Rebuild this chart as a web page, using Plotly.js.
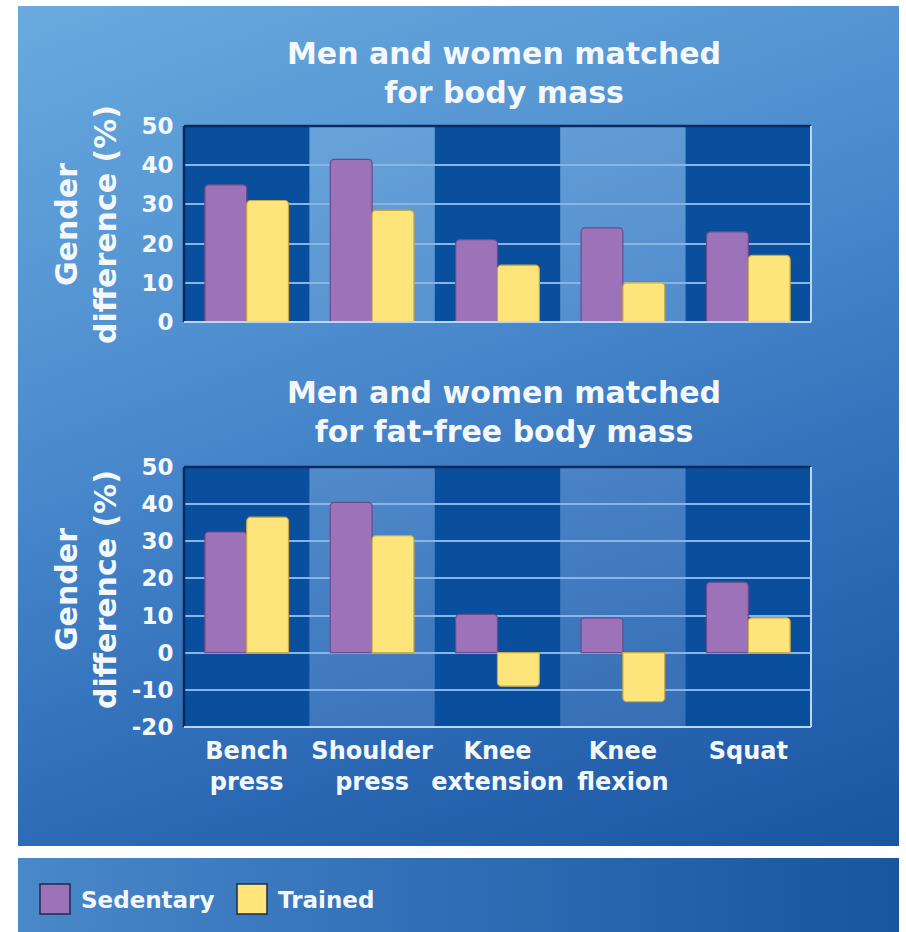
<!DOCTYPE html>
<html>
<head>
<meta charset="utf-8">
<script src="https://cdn.plot.ly/plotly-3.0.1.min.js"></script>
<style>
  html, body { margin:0; padding:0; background:#ffffff; }
  #wrap { position:relative; width:906px; height:932px; overflow:hidden; background:#ffffff; }
  #panel1 { position:absolute; left:18px; top:6px; width:881px; height:840px;
    background: linear-gradient(160deg, #6aaade 0%, #4f8fd0 35%, #2f6db8 70%, #1a55a0 100%); }
  #panel2 { position:absolute; left:18px; top:858px; width:881px; height:80px;
    background: linear-gradient(90deg, #4a88c9 0%, #3170b8 45%, #1a559f 100%); }
  #chart { position:absolute; left:0; top:0; width:906px; height:932px; }
</style>
</head>
<body>
<div id="wrap">
  <div id="panel1"></div>
  <div id="panel2"></div>
  <div id="chart"></div>
</div>
<script>
// ---- data ----
const categories = ['Bench press', 'Shoulder press', 'Knee extension', 'Knee flexion', 'Squat'];
const seriesNames = ['Sedentary', 'Trained'];
const bodyMassSedentary = [35, 41.5, 21, 24, 23];
const bodyMassTrained = [31, 28.5, 14.5, 10, 17];
const fatFreeSedentary = [32.5, 40.5, 10.3, 9.4, 19];
const fatFreeTrained = [36.5, 31.5, -9, -13.2, 9.4];
const topTicks = [0, 10, 20, 30, 40, 50];
const bottomTicks = [-20, -10, 0, 10, 20, 30, 40, 50];
const titleTop = 'Men and women matched<br>for body mass';
const titleBottom = 'Men and women matched<br>for fat-free body mass';
const yTitle = 'Gender<br>difference (%)';

// ---- style ----
const FONT = 'DejaVu Sans';
const WHITE = '#f4f8fd';
const PURPLE = '#9c73b8';
const YELLOW = '#fde57c';
const tickText = categories.map(c => c.replace(' ', '<br>'));

function barTrace(name, y, color, lineColor, xa, ya, showlegend) {
  return {
    type: 'bar', name: name, x: categories, y: y,
    xaxis: xa, yaxis: ya, showlegend: showlegend,
    marker: { color: color, cornerradius: 4, line: { color: lineColor, width: 1.2 } },
    hoverinfo: 'x+y+name'
  };
}

const data = [
  barTrace(seriesNames[0], bodyMassSedentary, PURPLE, '#6b4b8d', 'x', 'y', false),
  barTrace(seriesNames[1], bodyMassTrained, YELLOW, '#c9a945', 'x', 'y', false),
  barTrace(seriesNames[0], fatFreeSedentary, PURPLE, '#6b4b8d', 'x2', 'y2', false),
  barTrace(seriesNames[1], fatFreeTrained, YELLOW, '#c9a945', 'x2', 'y2', false)
];

const xDom = [184/906, 811/906];
const gridColor = '#86b6e6';

function yAxis(range, ticks, dom, anchor) {
  return {
    domain: dom, anchor: anchor, range: range, tickvals: ticks,
    ticktext: ticks.map(String),
    showgrid: true, gridcolor: gridColor, gridwidth: 2,
    zeroline: true, zerolinecolor: gridColor, zerolinewidth: 2,
    ticks: 'outside', ticklen: 5, tickcolor: 'rgba(0,0,0,0)',
    tickfont: { family: FONT, size: 23, color: WHITE, weight: 'bold' },
    showline: false, fixedrange: true
  };
}
function xAxis(dom, anchor, showLabels) {
  return {
    domain: dom, anchor: anchor, type: 'category', categoryarray: categories,
    tickvals: categories, ticktext: tickText, showticklabels: showLabels,
    tickangle: 0,
    showgrid: false, zeroline: false, showline: false,
    ticks: 'outside', ticklen: 2, tickcolor: 'rgba(0,0,0,0)',
    tickfont: { family: FONT, size: 24, color: WHITE, weight: 'bold' },
    fixedrange: true
  };
}

const shapes = [];
['x', 'x2'].forEach((xa, k) => {
  const ya = k === 0 ? 'y' : 'y2';
  categories.forEach((c, i) => {
    shapes.push({
      type: 'rect', layer: 'below', xref: xa, yref: ya + ' domain',
      x0: i - 0.5, x1: i + 0.5, y0: 0, y1: 1,
      fillcolor: i % 2 === 0 ? '#0a4f9d' : 'rgba(255,255,255,0.08)',
      line: { width: 0 }
    });
  });
  // frame: dark top/left, light bottom/right
  shapes.push({ type: 'line', xref: xa + ' domain', yref: ya + ' domain', x0: 0, x1: 1, y0: 1, y1: 1, line: { color: '#0b2b5c', width: 2.5 } });
  shapes.push({ type: 'line', xref: xa + ' domain', yref: ya + ' domain', x0: 0, x1: 0, y0: 0, y1: 1, line: { color: '#0b2b5c', width: 2.5 } });
  shapes.push({ type: 'line', xref: xa + ' domain', yref: ya + ' domain', x0: 0, x1: 1, y0: 0, y1: 0, line: { color: '#b9d6f2', width: 2 } });
  shapes.push({ type: 'line', xref: xa + ' domain', yref: ya + ' domain', x0: 1, x1: 1, y0: 0, y1: 1, line: { color: '#b9d6f2', width: 2 } });
});

// legend swatches (paper coords)
const legendColors = [PURPLE, YELLOW];
const legendX = [40, 237];
legendColors.forEach((col, i) => {
  shapes.push({
    type: 'rect', xref: 'paper', yref: 'paper',
    x0: legendX[i] / 906, x1: (legendX[i] + 30) / 906,
    y0: 1 - 914 / 932, y1: 1 - 884 / 932,
    fillcolor: col, line: { color: '#1d2b4a', width: 1.5 }
  });
});

const annotations = [
  { text: titleTop, xref: 'paper', yref: 'paper', x: 504/906, y: 1 - 73/932, showarrow: false,
    xanchor: 'center', yanchor: 'middle', font: { family: FONT, size: 30, color: WHITE, weight: 'bold' } },
  { text: titleBottom, xref: 'paper', yref: 'paper', x: 504/906, y: 1 - 412/932, showarrow: false,
    xanchor: 'center', yanchor: 'middle', font: { family: FONT, size: 30, color: WHITE, weight: 'bold' } },
  { text: yTitle, xref: 'paper', yref: 'paper', x: 86/906, y: 1 - 225/932, showarrow: false, textangle: -90,
    xanchor: 'center', yanchor: 'middle', font: { family: FONT, size: 30, color: WHITE, weight: 'bold' } },
  { text: yTitle, xref: 'paper', yref: 'paper', x: 86/906, y: 1 - 590/932, showarrow: false, textangle: -90,
    xanchor: 'center', yanchor: 'middle', font: { family: FONT, size: 30, color: WHITE, weight: 'bold' } },
  { text: seriesNames[0], xref: 'paper', yref: 'paper', x: 79/906, y: 1 - 900/932, showarrow: false,
    xanchor: 'left', yanchor: 'middle', font: { family: FONT, size: 23, color: WHITE, weight: 'bold' } },
  { text: seriesNames[1], xref: 'paper', yref: 'paper', x: 276/906, y: 1 - 900/932, showarrow: false,
    xanchor: 'left', yanchor: 'middle', font: { family: FONT, size: 23, color: WHITE, weight: 'bold' } }
];

const layout = {
  width: 906, height: 932,
  margin: { l: 0, r: 0, t: 0, b: 0, pad: 0 },
  paper_bgcolor: 'rgba(0,0,0,0)', plot_bgcolor: 'rgba(0,0,0,0)',
  barmode: 'group', bargap: 0.333, bargroupgap: 0,
  showlegend: false,
  xaxis: xAxis(xDom, 'y', false),
  yaxis: yAxis([0, 50], topTicks, [1 - 322/932, 1 - 126/932], 'x'),
  xaxis2: xAxis(xDom, 'y2', true),
  yaxis2: yAxis([-20, 50], bottomTicks, [1 - 727/932, 1 - 467/932], 'x2'),
  shapes: shapes,
  annotations: annotations,
  font: { family: FONT, color: WHITE }
};

Plotly.newPlot('chart', data, layout, { displayModeBar: false, staticPlot: true });
</script>
</body>
</html>
